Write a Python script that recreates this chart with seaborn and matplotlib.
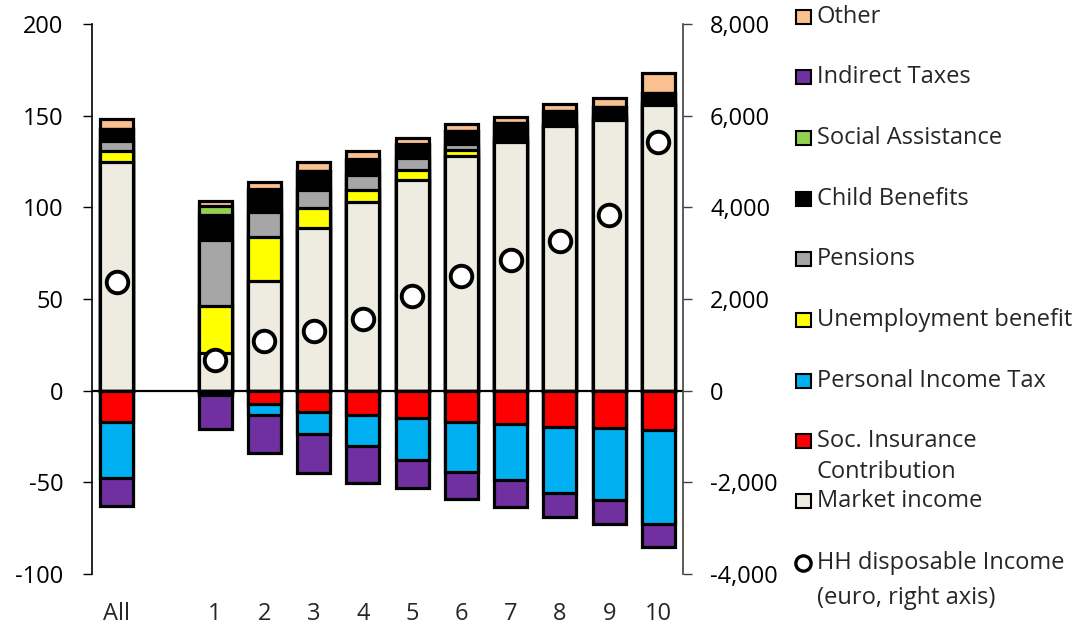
import numpy as np
import pandas as pd
import matplotlib
matplotlib.use("Agg")
import matplotlib.pyplot as plt
import seaborn as sns
from matplotlib.patches import Rectangle
from matplotlib.lines import Line2D

# ---------------- data ----------------
categories = ["All", "1", "2", "3", "4", "5", "6", "7", "8", "9", "10"]
order = ["All", " ", "1", "2", "3", "4", "5", "6", "7", "8", "9", "10"]

market_income = [125.0, 20.5, 60.0, 88.7, 102.7, 115.0, 127.8, 135.4, 144.1, 147.4, 155.9]
unemployment = [5.5, 25.5, 23.8, 10.7, 6.9, 5.5, 3.6, 1.8, 0.6, 1.3, 0.3]
pensions = [5.5, 36.3, 13.4, 10.2, 8.2, 6.4, 3.3, 1.5, 1.2, 1.5, 1.5]
child_benefits = [6.5, 13.7, 11.5, 10.0, 8.2, 7.2, 6.7, 7.3, 6.4, 4.3, 4.6]
social_assistance = [0.4, 4.9, 1.3, 0.4, 0.2, 0.2, 0.2, 0.2, 0.2, 0.2, 0.1]
other = [5.5, 2.7, 3.6, 4.5, 4.5, 3.7, 3.6, 3.2, 3.6, 5.0, 11.0]

soc_insurance = [-17.1, -1.6, -7.1, -11.6, -13.1, -14.9, -17.1, -18.2, -19.8, -20.4, -21.6]
income_tax = [-30.5, -0.8, -6.0, -12.0, -17.3, -22.7, -27.3, -30.3, -36.0, -39.0, -51.1]
indirect_taxes = [-15.1, -18.6, -20.9, -21.3, -19.9, -15.7, -14.7, -14.9, -13.1, -13.1, -12.5]

disposable_income = [2362, 676, 1090, 1309, 1570, 2072, 2508, 2842, 3257, 3823, 5416]

left_ticks = [-100, -50, 0, 50, 100, 150, 200]
right_ticks = [-4000, -2000, 0, 2000, 4000, 6000, 8000]

# ---------------- style ----------------
colors = {
    "Other": "#FAC090",
    "Indirect Taxes": "#7030A0",
    "Social Assistance": "#92D050",
    "Child Benefits": "#000000",
    "Pensions": "#A6A6A6",
    "Unemployment benefit": "#FFFF00",
    "Personal Income Tax": "#00B0F0",
    "Soc. Insurance\nContribution": "#FF0000",
    "Market income": "#EEECE1",
}

sns.set_theme(style="white")
plt.rcParams["font.family"] = ["Open Sans", "DejaVu Sans"]
FS = 17

df = pd.DataFrame({"cat": categories})
pos_layers = [
    ("Market income", market_income),
    ("Unemployment benefit", unemployment),
    ("Pensions", pensions),
    ("Child Benefits", child_benefits),
    ("Social Assistance", social_assistance),
    ("Other", other),
]
neg_layers = [
    ("Soc. Insurance\nContribution", soc_insurance),
    ("Personal Income Tax", income_tax),
    ("Indirect Taxes", indirect_taxes),
]

W, H = 1073, 626
fig = plt.figure(figsize=(10.73, 6.26), dpi=100)
ax = fig.add_axes([92 / W, 1 - 574 / H, 591 / W, 550 / H])

# cumulative stacks, drawn from the outermost layer inward (overlay)
cum = np.zeros(len(categories))
pos_cums = []
for name, vals in pos_layers:
    cum = cum + np.array(vals)
    pos_cums.append((name, cum.copy()))
cum = np.zeros(len(categories))
neg_cums = []
for name, vals in neg_layers:
    cum = cum + np.array(vals)
    neg_cums.append((name, cum.copy()))

for name, c in list(reversed(pos_cums)) + list(reversed(neg_cums)):
    df["v"] = c
    sns.barplot(data=df, x="cat", y="v", order=order, color=colors[name],
                saturation=1, edgecolor="black", linewidth=2.3, width=0.67,
                errorbar=None, ax=ax)

ax.axhline(0, color="black", lw=1.6, zorder=4)
ax.set_xlim(-0.5, len(order) - 0.5)
ax.set_ylim(-100, 200)
ax.set_yticks(left_ticks)
ax.set_yticklabels([f"{t:d}" for t in left_ticks], fontsize=FS)
ax.set_xlabel("")
ax.set_ylabel("")
ax.tick_params(axis="x", length=0, pad=20, labelsize=FS)
ax.tick_params(axis="y", direction="out", length=6.5, width=1, pad=14, colors="black")
for s in ["top", "bottom", "right"]:
    ax.spines[s].set_visible(False)
ax.spines["left"].set_color("black")
ax.spines["left"].set_linewidth(1.2)

# right axis: disposable income
ax2 = ax.twinx()
xpos = [order.index(c) for c in categories]
sns.scatterplot(x=xpos, y=disposable_income, ax=ax2, s=240, color="white",
                edgecolor="black", linewidth=2.8, zorder=6, legend=False)
ax2.set_xlim(-0.5, len(order) - 0.5)
ax2.set_ylim(-4000, 8000)
ax2.set_yticks(right_ticks)
ax2.set_yticklabels([f"{t:,d}" for t in right_ticks], fontsize=FS)
ax2.tick_params(axis="y", direction="out", length=6.5, width=1, pad=13, colors="#404040",
                labelcolor="black")
for s in ["top", "bottom", "left"]:
    ax2.spines[s].set_visible(False)
ax2.spines["right"].set_color("#404040")
ax2.spines["right"].set_linewidth(1.2)
ax2.set_ylabel("")

# ---------------- legend (manual, right side) ----------------
legend_items = [
    ("Other", 17, 1.0),
    ("Indirect Taxes", 77, 1.0),
    ("Social Assistance", 138, 1.0),
    ("Child Benefits", 199, 1.0),
    ("Pensions", 259, 1.0),
    ("Unemployment benefit", 320, 1.0),
    ("Personal Income Tax", 381, 1.0),
    ("Soc. Insurance\nContribution", 441, 1.4),
    ("Market income", 501, 1.0),
]
for name, y, ls in legend_items:
    fig.patches.append(Rectangle((796 / W, 1 - (y + 7) / H), 15 / W, 14 / H,
                                 transform=fig.transFigure, facecolor=colors[name],
                                 edgecolor="black", linewidth=1.5))
    if "\n" in name:
        fig.text(817 / W, 1 - (y - 12) / H, name, fontsize=FS, va="top", ha="left",
                 linespacing=ls)
    else:
        fig.text(817 / W, 1 - y / H, name, fontsize=FS, va="center", ha="left")

fig.lines.append(Line2D([803 / W], [1 - 563 / H], transform=fig.transFigure, marker="o",
                        markersize=11, markerfacecolor="white", markeredgecolor="black",
                        markeredgewidth=2.4, linestyle="none"))
fig.text(817 / W, 1 - (563 - 12) / H, "HH disposable Income\n(euro, right axis)",
         fontsize=FS, va="top", ha="left", linespacing=1.6)

fig.savefig("out.png", dpi=100)
